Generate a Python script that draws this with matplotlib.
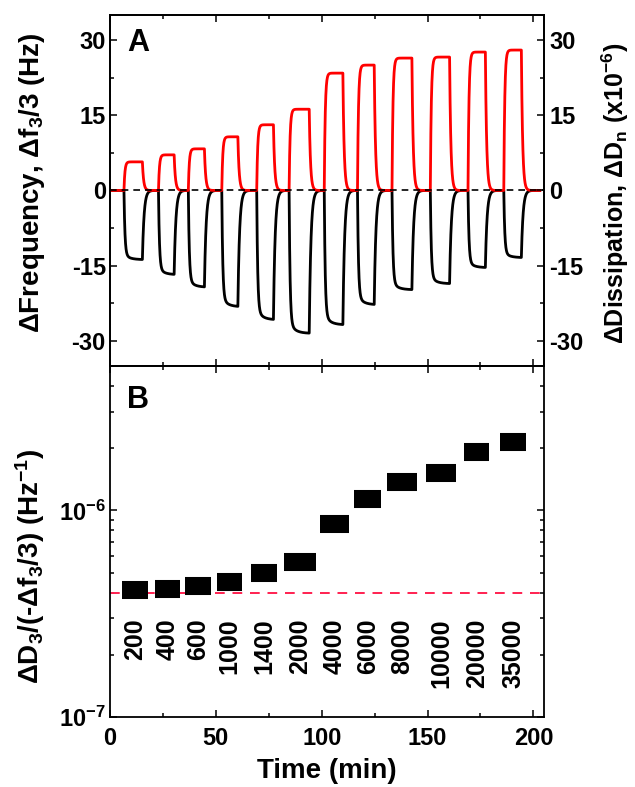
import matplotlib
matplotlib.use("Agg")
import matplotlib.pyplot as plt
from matplotlib.ticker import MultipleLocator, LogLocator, NullFormatter, FixedLocator
import numpy as np

plt.rcParams["font.family"] = ["Liberation Sans", "DejaVu Sans"]
plt.rcParams["font.weight"] = "bold"
plt.rcParams["mathtext.fontset"] = "custom"
plt.rcParams["mathtext.rm"] = "Liberation Sans:bold"
plt.rcParams["mathtext.it"] = "Liberation Sans:bold"
plt.rcParams["mathtext.bf"] = "Liberation Sans:bold"
plt.rcParams["mathtext.default"] = "rm"
plt.rcParams["axes.unicode_minus"] = False

# panel A: injection pulses (min) and plateau levels
pulse_start = [6.6, 22.9, 37.0, 52.8, 69.3, 84.6, 101.2, 116.9, 133.2, 151.3, 169.1, 186.0]
pulse_end = [15.3, 30.3, 44.6, 60.4, 77.2, 94.1, 110.0, 124.8, 142.6, 160.4, 177.3, 194.3]
freq_level = [-13.8, -16.8, -19.3, -23.2, -25.8, -28.5, -26.8, -22.8, -19.8, -18.6, -15.4, -13.4]
diss_level = [5.7, 7.1, 8.3, 10.7, 13.1, 16.2, 23.4, 25.0, 26.4, 26.6, 27.6, 28.0]

# panel B: dissipation / frequency ratio per concentration
conc_labels = ["200", "400", "600", "1000", "1400", "2000",
               "4000", "6000", "8000", "10000", "20000", "35000"]
ratio = [4.1e-7, 4.18e-7, 4.29e-7, 4.52e-7, 5.0e-7, 5.6e-7,
         8.55e-7, 1.13e-6, 1.37e-6, 1.51e-6, 1.91e-6, 2.14e-6]
block_start = [5.7, 21.3, 35.5, 50.7, 66.5, 82.0, 99.3, 115.4, 131.0, 149.4, 167.4, 184.4]
block_end = [18.0, 33.1, 47.7, 62.3, 79.0, 97.4, 113.0, 128.0, 145.0, 163.6, 179.2, 196.7]
ratio_ref = 4.0e-7

t = np.linspace(0, 203, 4061)
freq = np.zeros_like(t)
diss = np.zeros_like(t)
for s, e, fl, dl in zip(pulse_start, pulse_end, freq_level, diss_level):
    on = (t >= s) & (t < e)
    dt = t[on] - s
    freq[on] += fl * (1 - 0.92 * np.exp(-dt / 0.45) - 0.08 * np.exp(-dt / 2.5))
    diss[on] += dl * (1 - np.exp(-dt / 0.45))
    fe = fl * (1 - 0.92 * np.exp(-(e - s) / 0.45) - 0.08 * np.exp(-(e - s) / 2.5))
    de = dl * (1 - np.exp(-(e - s) / 0.45))
    off = t >= e
    freq[off] += fe * np.exp(-(t[off] - e) / 0.8)
    diss[off] += de * np.exp(-(t[off] - e) / 0.6)

fig = plt.figure(figsize=(6.35, 7.87), dpi=100)
axA = fig.add_axes([0.1732, 0.535, 0.6835, 0.446])
axB = fig.add_axes([0.1732, 0.0889, 0.6835, 0.446])

axA.plot(t, freq, color="black", lw=2.0, zorder=2)
axA.plot(t, diss, color="#ff0000", lw=2.0, zorder=3)
axA.axhline(0, color="black", lw=1.2, ls=(0, (4, 3)), zorder=4)
axA.set_xlim(0, 205)
axA.set_ylim(-35, 35)
axA.yaxis.set_major_locator(FixedLocator([-30, -15, 0, 15, 30]))
axA.yaxis.set_minor_locator(MultipleLocator(7.5))
axA.xaxis.set_major_locator(MultipleLocator(50))
axA.xaxis.set_minor_locator(MultipleLocator(25))
axA.tick_params(axis="x", which="both", labelbottom=False)
axA.set_ylabel("ΔFrequency, Δf$_3$/3 (Hz)", fontsize=20, fontweight="bold")
axA.yaxis.set_label_coords(-0.145, 0.523)
axA.text(0.04, 0.963, "A", transform=axA.transAxes, fontsize=22,
         fontweight="bold", ha="left", va="top")

axA2 = axA.twinx()
axA2.set_ylim(-35, 35)
axA2.yaxis.set_major_locator(FixedLocator([-30, -15, 0, 15, 30]))
axA2.yaxis.set_minor_locator(MultipleLocator(7.5))
axA2.set_ylabel("ΔDissipation, ΔD$_n$ (x10$^{-6}$)", fontsize=18,
                fontweight="bold", rotation=90)
axA2.yaxis.set_label_coords(1.128, 0.493)

axB.hlines(ratio, block_start, block_end, color="black", lw=13, zorder=3)
axB.axhline(ratio_ref, color="#ff2050", lw=1.4, ls=(0, (5, 4)), zorder=2)
axB.set_yscale("log")
axB.set_xlim(0, 205)
axB.set_ylim(1e-7, 5e-6)
axB.yaxis.set_major_locator(LogLocator(base=10, numticks=10))
axB.yaxis.set_minor_locator(LogLocator(base=10, subs=np.arange(2, 10), numticks=20))
axB.yaxis.set_minor_formatter(NullFormatter())
axB.xaxis.set_major_locator(MultipleLocator(50))
axB.xaxis.set_minor_locator(MultipleLocator(25))
axB.set_xlabel("Time (min)", fontsize=20, fontweight="bold", labelpad=6)
axB.set_ylabel("ΔD$_3$/(-Δf$_3$/3) (Hz$^{-1}$)", fontsize=20, fontweight="bold")
axB.yaxis.set_label_coords(-0.145, 0.43)
axB.text(0.04, 0.946, "B", transform=axB.transAxes, fontsize=22,
         fontweight="bold", ha="left", va="top")
for s, e, lab in zip(block_start, block_end, conc_labels):
    axB.text((s + e) / 2, 3.0e-7, lab, rotation=90, ha="center", va="top",
             fontsize=18, fontweight="bold")

for ax in (axA, axA2, axB):
    for sp in ax.spines.values():
        sp.set_linewidth(1.3)
    ax.tick_params(which="both", direction="in", width=1.1, labelsize=17,
                   top=True, bottom=True)
    ax.tick_params(which="major", length=5)
    ax.tick_params(which="minor", length=3)
axA.tick_params(axis="y", left=True, right=False, pad=3)
axA2.tick_params(axis="y", right=True, left=False, pad=4)
axB.tick_params(axis="y", which="both", left=True, right=True, pad=3)
axB.tick_params(axis="x", pad=7)
for lab in axA.get_yticklabels() + axA2.get_yticklabels() + axB.get_yticklabels() + axB.get_xticklabels():
    lab.set_fontweight("bold")

fig.savefig("out.png", dpi=100)
